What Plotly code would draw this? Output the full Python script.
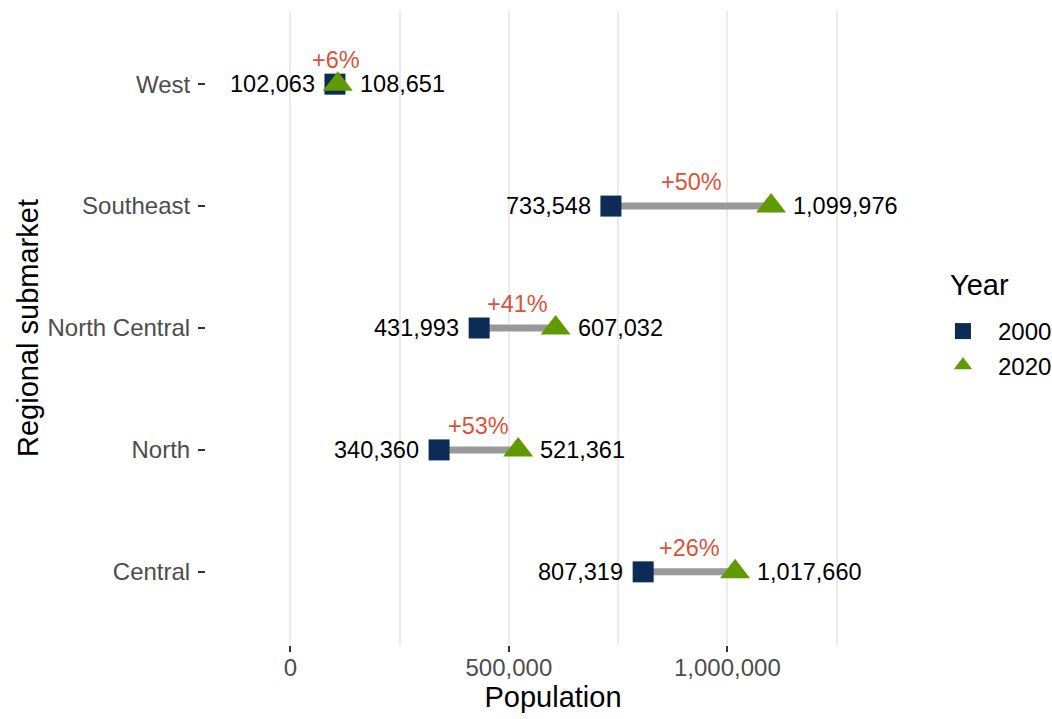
import plotly.graph_objects as go

regions = ["Central", "North", "North Central", "Southeast", "West"]
pop_2000 = [807319, 340360, 431993, 733548, 102063]
pop_2020 = [1017660, 521361, 607032, 1099976, 108651]
years = ["2000", "2020"]
x_ticks = [0, 500000, 1000000]
x_tick_labels = ["0", "500,000", "1,000,000"]

NAVY = "#0C2B57"
GREEN = "#5F9B00"
RED = "#D9533B"
SEG = "#999999"
FONT = "Liberation Sans, Arial, Helvetica, sans-serif"

fig = go.Figure()

# segments
seg_x, seg_y = [], []
for r, a, b in zip(regions, pop_2000, pop_2020):
    seg_x += [a, b, None]
    seg_y += [r, r, None]
fig.add_trace(go.Scatter(x=seg_x, y=seg_y, mode="lines",
                         line=dict(color=SEG, width=7), showlegend=False,
                         hoverinfo="skip"))

fig.add_trace(go.Scatter(x=pop_2000, y=regions, mode="markers",
                         name=years[0] + "\u00a0\u00a0",
                         marker=dict(symbol="square", size=21, color=NAVY,
                                     line=dict(width=0))))
fig.add_trace(go.Scatter(x=pop_2020, y=regions, mode="markers",
                         name=years[1] + "\u00a0\u00a0",
                         marker=dict(symbol="triangle-up", size=26, color=GREEN,
                                     line=dict(width=0))))

annotations = []
for r, a, b in zip(regions, pop_2000, pop_2020):
    annotations.append(dict(x=a, y=r, xref="x", yref="y", text=f"{a:,}",
                            showarrow=False, xanchor="right", yanchor="middle",
                            xshift=-18, font=dict(size=23.5, color="#000000", family=FONT)))
    annotations.append(dict(x=b, y=r, xref="x", yref="y", text=f"{b:,}",
                            showarrow=False, xanchor="left", yanchor="middle",
                            xshift=20, font=dict(size=23.5, color="#000000", family=FONT)))
    pct = round((b - a) / a * 100)
    annotations.append(dict(x=(a + b) / 2, y=r, xref="x", yref="y", text=f"+{pct}%",
                            showarrow=False, xanchor="center", yanchor="middle",
                            yshift=24, font=dict(size=23.5, color=RED, family=FONT)))

# legend title
annotations.append(dict(x=1.0692, y=0.568, xref="paper", yref="paper", text="Year",
                        showarrow=False, xanchor="left", yanchor="middle",
                        font=dict(size=29, color="#000000", family=FONT)))

fig.update_layout(
    width=1052, height=719,
    margin=dict(l=206, r=152, t=11, b=74, autoexpand=False),
    paper_bgcolor="white", plot_bgcolor="white",
    font=dict(family=FONT, size=24, color="#000000"),
    annotations=annotations,
    legend=dict(
        font=dict(size=24, color="#000000"),
        x=1.0403, xref="paper", xanchor="left",
        y=0.53, yanchor="top",
        itemsizing="trace", itemwidth=60,
        bgcolor="rgba(0,0,0,0)",
    ),
    xaxis=dict(
        range=[-193000, 1395000],
        tickmode="array", tickvals=x_ticks, ticktext=x_tick_labels,
        showgrid=True, gridcolor="#EBEBEB", gridwidth=1.5,
        minor=dict(tickmode="linear", tick0=0, dtick=250000, showgrid=True,
                   gridcolor="#EBEBEB", gridwidth=1.5, ticks=""),
        zeroline=False, showline=False,
        ticks="outside", ticklen=6, tickwidth=2, tickcolor="#333333",
        ticklabelstandoff=-5,
        tickfont=dict(size=24, color="#4D4D4D"),
        title=dict(text="Population", font=dict(size=29, color="#000000"), standoff=1),
        automargin=False,
    ),
    yaxis=dict(
        type="category", categoryorder="array", categoryarray=regions,
        range=[-0.6, 4.6],
        showgrid=False, zeroline=False, showline=False,
        ticks="outside", ticklen=7, tickwidth=2, tickcolor="#333333",
        ticklabelstandoff=3,
        tickfont=dict(size=24, color="#4D4D4D"),
        title=dict(text="Regional submarket", font=dict(size=29, color="#000000"), standoff=0),
        automargin=False,
    ),
)

fig.write_html(
    "out.html",
    config={"displayModeBar": False},
    post_script="document.body.style.margin='0';"
                "document.documentElement.style.overflow='hidden';",
)
